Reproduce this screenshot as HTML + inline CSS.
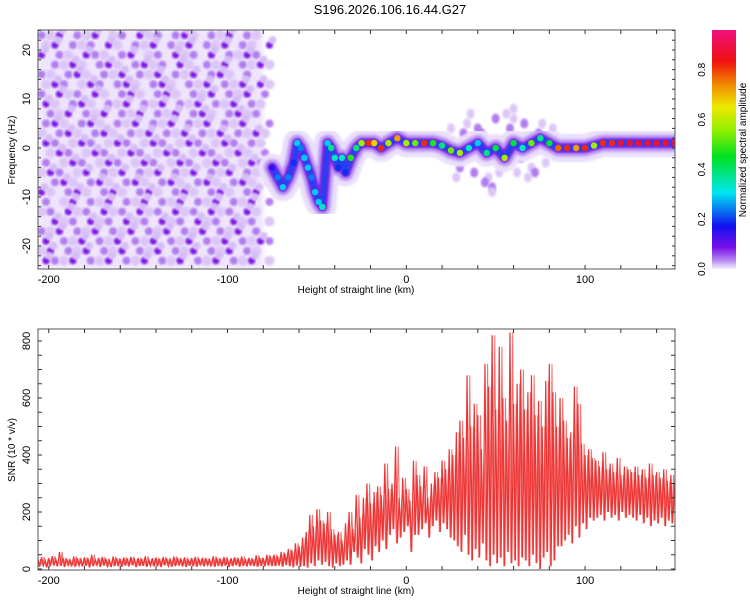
<!DOCTYPE html>
<html><head><meta charset="utf-8"><style>
body{margin:0;background:#fff;width:750px;height:600px;overflow:hidden;font-family:"Liberation Sans",sans-serif}
svg{display:block}
text{font-family:"Liberation Sans",sans-serif;font-size:11px;fill:#000}
</style></head><body>
<svg id="chart" width="750" height="600">
<defs>
<filter id="blur1"><feGaussianBlur stdDeviation="1"/></filter>
<filter id="blur2"><feGaussianBlur stdDeviation="2"/></filter>
<filter id="blur3"><feGaussianBlur stdDeviation="3"/></filter>
<linearGradient id="cmap" x1="0" y1="1" x2="0" y2="0">
<stop offset="0" stop-color="#f4eefc"/><stop offset="0.04" stop-color="#b080f0"/>
<stop offset="0.09" stop-color="#7a10e8"/><stop offset="0.18" stop-color="#1010f0"/>
<stop offset="0.32" stop-color="#00e8f0"/><stop offset="0.47" stop-color="#00e020"/>
<stop offset="0.58" stop-color="#90f000"/><stop offset="0.68" stop-color="#f0e800"/>
<stop offset="0.78" stop-color="#f08000"/><stop offset="0.87" stop-color="#f01010"/>
<stop offset="1" stop-color="#f01080"/>
</linearGradient>
<clipPath id="topclip"><rect x="38" y="30" width="637" height="239"/></clipPath>
<clipPath id="botclip"><rect x="38" y="329" width="637" height="241"/></clipPath>
</defs>
<text x="390" y="14" text-anchor="middle" style="font-size:13px">S196.2026.106.16.44.G27</text>
<g id="topbg" clip-path="url(#topclip)"></g>
<g id="topmarks" clip-path="url(#topclip)"></g>
<g id="bot" clip-path="url(#botclip)"></g>
<g id="axes"></g>
<rect x="712" y="30" width="24" height="239" fill="url(#cmap)"/>
<text transform="translate(746,150) rotate(-90)" text-anchor="middle" style="font-size:10px">Normalized spectral amplitude</text>
</svg>
<script>
const NS='http://www.w3.org/2000/svg';
// ---- data: top spectrogram ridge ----
const ridgeKm=[-75,-72,-69,-66,-63,-61,-59,-57,-55,-53,-51,-49,-47,-44,-42,-40,-38,-36,-34,-31,-28,-25,-21,-18,-14,-10,-5,0,5,10,15,20,25,30,35,40,45,50,55,60,65,70,75,80,85,90,95,100,105,110,115,120,125,130,135,140,145,150];
const ridgeHz=[-4,-6,-8,-6,-3,1,0,-2,-4,-6,-9,-11,-12,1,0,-2,-4,-2,-5,-2,0,1,1,1,0,1,2,1,1,1,1,0.5,-0.5,-1,0,1,-1,0,-2,1,0,1,2,1,0,0,0,0,0.5,1,1,1,1,1,1,1,1,1];
const ridgeAmp=[0.15,0.25,0.3,0.25,0.2,0.3,0.25,0.3,0.3,0.25,0.3,0.3,0.35,0.3,0.4,0.35,0.2,0.35,0.2,0.5,0.4,0.6,0.85,0.7,0.85,0.6,0.75,0.6,0.55,0.85,0.5,0.4,0.55,0.6,0.35,0.3,0.4,0.45,0.6,0.45,0.35,0.55,0.4,0.45,0.8,0.85,0.75,0.85,0.6,0.85,0.85,0.9,0.9,0.9,0.9,0.9,0.9,0.9];
// scatter halo around ridge (km, Hz, level)
const haloKm=[25,30,34,38,42,46,50,54,58,62,66,70,74,78,82,28,36,44,52,60,68,76,32,40,48,56,64,72,48,60];
const haloHz=[4,-4,5,-5,3,-6,6,-3,4,-5,5,-4,3,-3,4,-6,7,-7,-5,6,-6,5,3,4,-8,7,-2,-5,-9,8];
const haloLvl=[1,2,1,2,2,1,2,1,2,1,2,1,2,1,1,1,1,2,1,1,1,1,2,2,2,1,2,2,1,1];
// noise field: rows Hz 23..-23 step 2, cols km -204..-79 step 5; level 0-3
const noiseRowHzTop=23, noiseRowStep=2, noiseColKm0=-204, noiseColStep=5;
const noiseGrid=[
"21302130120312023102130210",
"13021203102130213021302103",
"30210321023012031203021320",
"02131023102312031021302131",
"21023102130213021302310200",
"13201320231023102130213031",
"20312031023102310213021302",
"31023102130213021302130210",
"02130213021302130231023120",
"23102310213021302130213002",
"10231023102130213021302131",
"32013201320132013201320210",
"01320132013201320132013102",
"20132013201320132013201320",
"13201302130213021302130210",
"02310231023102310231023101",
"31023102310231023102310230",
"20130213021302130213021302",
"12031203120312031203120310",
"03120312031203120312031201",
"21302130213021302130213020",
"30213021302130213021302132",
"13021302130213021302130210",
"32130213021302130213021301"];
// ---- data: SNR, km = kmStart + i*kmStep ----
const kmStart=-206, kmStep=2;
const snrHigh=[35,42,30,38,45,33,60,40,36,31, 44,38,34,41,37,50,33,39,42,36, 30,44,38,35,41,37,43,34,39,36, 45,32,38,40,35,42,37,33,44,39, 36,41,34,38,43,35,40,37,32,45, 39,36,42,34,38,41,37,44,35,39, 36,48,40,38,50,45,
50,45,60,55,70,65,90,80,110,130, 190,150,210,170,160,200,140,120,130,100, 160,200,140,260,180,250,300,230,270,290, 260,370,280,300,430,250,320,280,240,380, 330,290,360,250,300,340,320,380,350,420, 400,480,520,460,680,500,580,540,420,720, 640,820,560,780,600,520,830,580,650,700, 560,620,680,540,590,500,660,720,620,500, 600,520,460,480,640,580,440,400,420,390, 380,360,410,350,370,340,390,330,360,350,
340,360,330,350,320,370,330,340,320,350,310,330,300];
const snrLow=[8,12,6,10,14,9,11,7,13,10, 8,12,9,11,6,10,13,8,12,9, 7,11,10,8,12,9,13,7,10,11, 8,12,9,10,7,13,11,8,10,12, 9,7,11,10,8,12,9,13,10,8, 11,9,12,7,10,13,8,11,9,12, 10,8,11,9,12,10,
10,12,8,14,10,6,12,8,10,5, 20,10,30,15,25,10,5,20,10,15, 30,15,60,40,20,70,50,30,80,60, 100,70,120,140,90,110,130,150,60,120, 120,140,160,110,150,170,130,160,140,110, 100,80,60,120,50,30,70,40,90,30, 10,50,20,40,10,60,20,30,10,40, 30,10,50,20,0,40,60,10,30,80, 80,100,120,90,150,110,160,140,180,170, 180,190,170,200,180,190,170,200,180,190,
180,170,190,160,180,150,170,160,180,150,170,160,150];
// ---- scales ----
const xL=38,xR=675,kmMin=-206,kmMax=150.3;
const X=k=>xL+(k-kmMin)/(kmMax-kmMin)*(xR-xL);
const YT=f=>148-f*4.9;
const YB=v=>569-v*(228/800);
function cmap(a){const s=[[0,[240,230,252]],[0.05,[176,128,240]],[0.1,[122,16,232]],[0.18,[16,16,240]],[0.32,[0,232,240]],[0.47,[0,224,32]],[0.58,[144,240,0]],[0.68,[240,232,0]],[0.78,[240,128,0]],[0.87,[240,16,16]],[1,[240,16,128]]];
for(let i=1;i<s.length;i++){if(a<=s[i][0]){const t=(a-s[i-1][0])/(s[i][0]-s[i-1][0]);const c=s[i-1][1].map((v,j)=>Math.round(v+(s[i][1][j]-v)*t));return `rgb(${c})`;}}return 'rgb(240,16,128)';}
function el(tag,attrs,parent){const e=document.createElementNS(NS,tag);for(const k in attrs)e.setAttribute(k,attrs[k]);parent.appendChild(e);return e;}
const topG=document.getElementById('topbg'),tm=document.getElementById('topmarks');
const lvlFill=['none','#dcc6f8','#b07cf0','#7a14e6'];
const lvlR=[0,5,4,3.6];
// noise background
const bg=el('rect',{x:X(-206),y:30,width:X(-80)-X(-206),height:239,fill:'#eee4fc',filter:'url(#blur3)'},topG);


noiseGrid.forEach((row,r)=>{
 const hz=noiseRowHzTop-r*noiseRowStep;
 row.split('').forEach((ch,c)=>{
  const lv=+ch;if(!lv)return;
  const km=noiseColKm0+c*noiseColStep+((r%2)?2.5:0);
  const b=el('circle',{cx:X(km),cy:YT(hz),r:lvlR[lv],fill:lvlFill[lv],filter:'url(#blur1)'},topG);
  
  
  if(lv===3){const h=el('circle',{cx:X(km)+3,cy:YT(hz)-5,r:4,fill:'#d6bcf6',filter:'url(#blur1)'},topG);
   
   }
 });
});
// scatter halo near ridge
haloKm.forEach((k,i)=>{
 const c=el('ellipse',{cx:X(k),cy:YT(haloHz[i]),rx:4,ry:5,fill:lvlFill[haloLvl[i]],filter:'url(#blur1)'},topG);
 
 
});
// ridge halo layers
const pts=ridgeKm.map((k,i)=>X(k)+','+YT(ridgeHz[i])).join(' ');
[[28,'#eadefb'],[17,'#c09cf2'],[10,'#7a20e6'],[5,'#2040f0']].forEach(([w,c])=>{
 const p=el('polyline',{points:pts,fill:'none',stroke:c,'stroke-width':w,'stroke-linejoin':'round','stroke-linecap':'round',filter:'url(#blur1)'},tm);
 
 
});
ridgeKm.forEach((k,i)=>{
 const c=el('circle',{cx:X(k),cy:YT(ridgeHz[i]),r:3.2,fill:cmap(ridgeAmp[i])},tm);
 
 
});
// SNR series
const botG=document.getElementById('bot');
let sp=[],sp2=[];
snrHigh.forEach((h,i)=>{const k=kmStart+i*kmStep;sp.push(X(k)+','+YB(h));sp.push(X(k+1)+','+YB(snrLow[i]));
 sp2.push(X(k+0.5)+','+YB(snrLow[i]));sp2.push(X(k+1.5)+','+YB(h));});
const snrLine2=el('polyline',{points:sp2.join(' '),fill:'none',stroke:'#f07070','stroke-width':1},botG);


const snrLine=el('polyline',{points:sp.join(' '),fill:'none',stroke:'#ee3333','stroke-width':1.2},botG);


// axes
const ax=document.getElementById('axes');
function frame(y0,y1,name){const r=el('rect',{x:xL,y:y0,width:xR-xL,height:y1-y0,fill:'none',stroke:'#555','stroke-width':1},ax);}
frame(30,269,'spectrogram-frame');frame(329,570,'snr-frame');
const xTicks=[-200,-100,0,100];
function xaxis(y0,y1,ly,pref){
 for(let k=-200;k<=150;k+=20){const x=X(k);el('line',{x1:x,y1:y1,x2:x,y2:y1-4,stroke:'#333'},ax);el('line',{x1:x,y1:y0,x2:x,y2:y0+4,stroke:'#333'},ax);}
 xTicks.forEach(k=>{const t=el('text',{x:X(k),y:ly,'text-anchor':'middle'},ax);t.textContent=k;});
 const t=el('text',{x:356,y:ly+10,'text-anchor':'middle','style':'font-size:10px'},ax);t.textContent='Height of straight line (km)';
 
}
xaxis(30,269,283,'spectrogram');xaxis(329,570,584,'snr');
const fTicks=[20,10,0,-10,-20];
for(let f=-24;f<=24;f+=2){const y=YT(f);if(y<30||y>269)continue;el('line',{x1:xL,y1:y,x2:xL+3,y2:y,stroke:'#333'},ax);el('line',{x1:xR,y1:y,x2:xR-3,y2:y,stroke:'#333'},ax);}
fTicks.forEach(f=>{const t=el('text',{transform:`translate(30,${YT(f)}) rotate(-90)`,'text-anchor':'middle'},ax);t.textContent=f;});
let tt=el('text',{transform:'translate(15,150) rotate(-90)','text-anchor':'middle',style:'font-size:10px'},ax);tt.textContent='Frequency (Hz)';
const sTicks=[0,200,400,600,800];
for(let v=0;v<=840;v+=50){const y=YB(v);if(y<329)continue;el('line',{x1:xL,y1:y,x2:xL+4,y2:y,stroke:'#333'},ax);el('line',{x1:xR,y1:y,x2:xR-4,y2:y,stroke:'#333'},ax);}
sTicks.forEach(v=>{const t=el('text',{transform:`translate(30,${YB(v)}) rotate(-90)`,'text-anchor':'middle'},ax);t.textContent=v;});
tt=el('text',{transform:'translate(15,450) rotate(-90)','text-anchor':'middle',style:'font-size:10px'},ax);tt.textContent='SNR (10 * v/v)';
const cTicks=[0.0,0.2,0.4,0.6,0.8];
cTicks.forEach(v=>{const y=269-v*249;const t=el('text',{transform:`translate(705,${y}) rotate(-90)`,'text-anchor':'middle',style:'font-size:10px'},ax);t.textContent=v.toFixed(1);});
</script>
</body></html>
